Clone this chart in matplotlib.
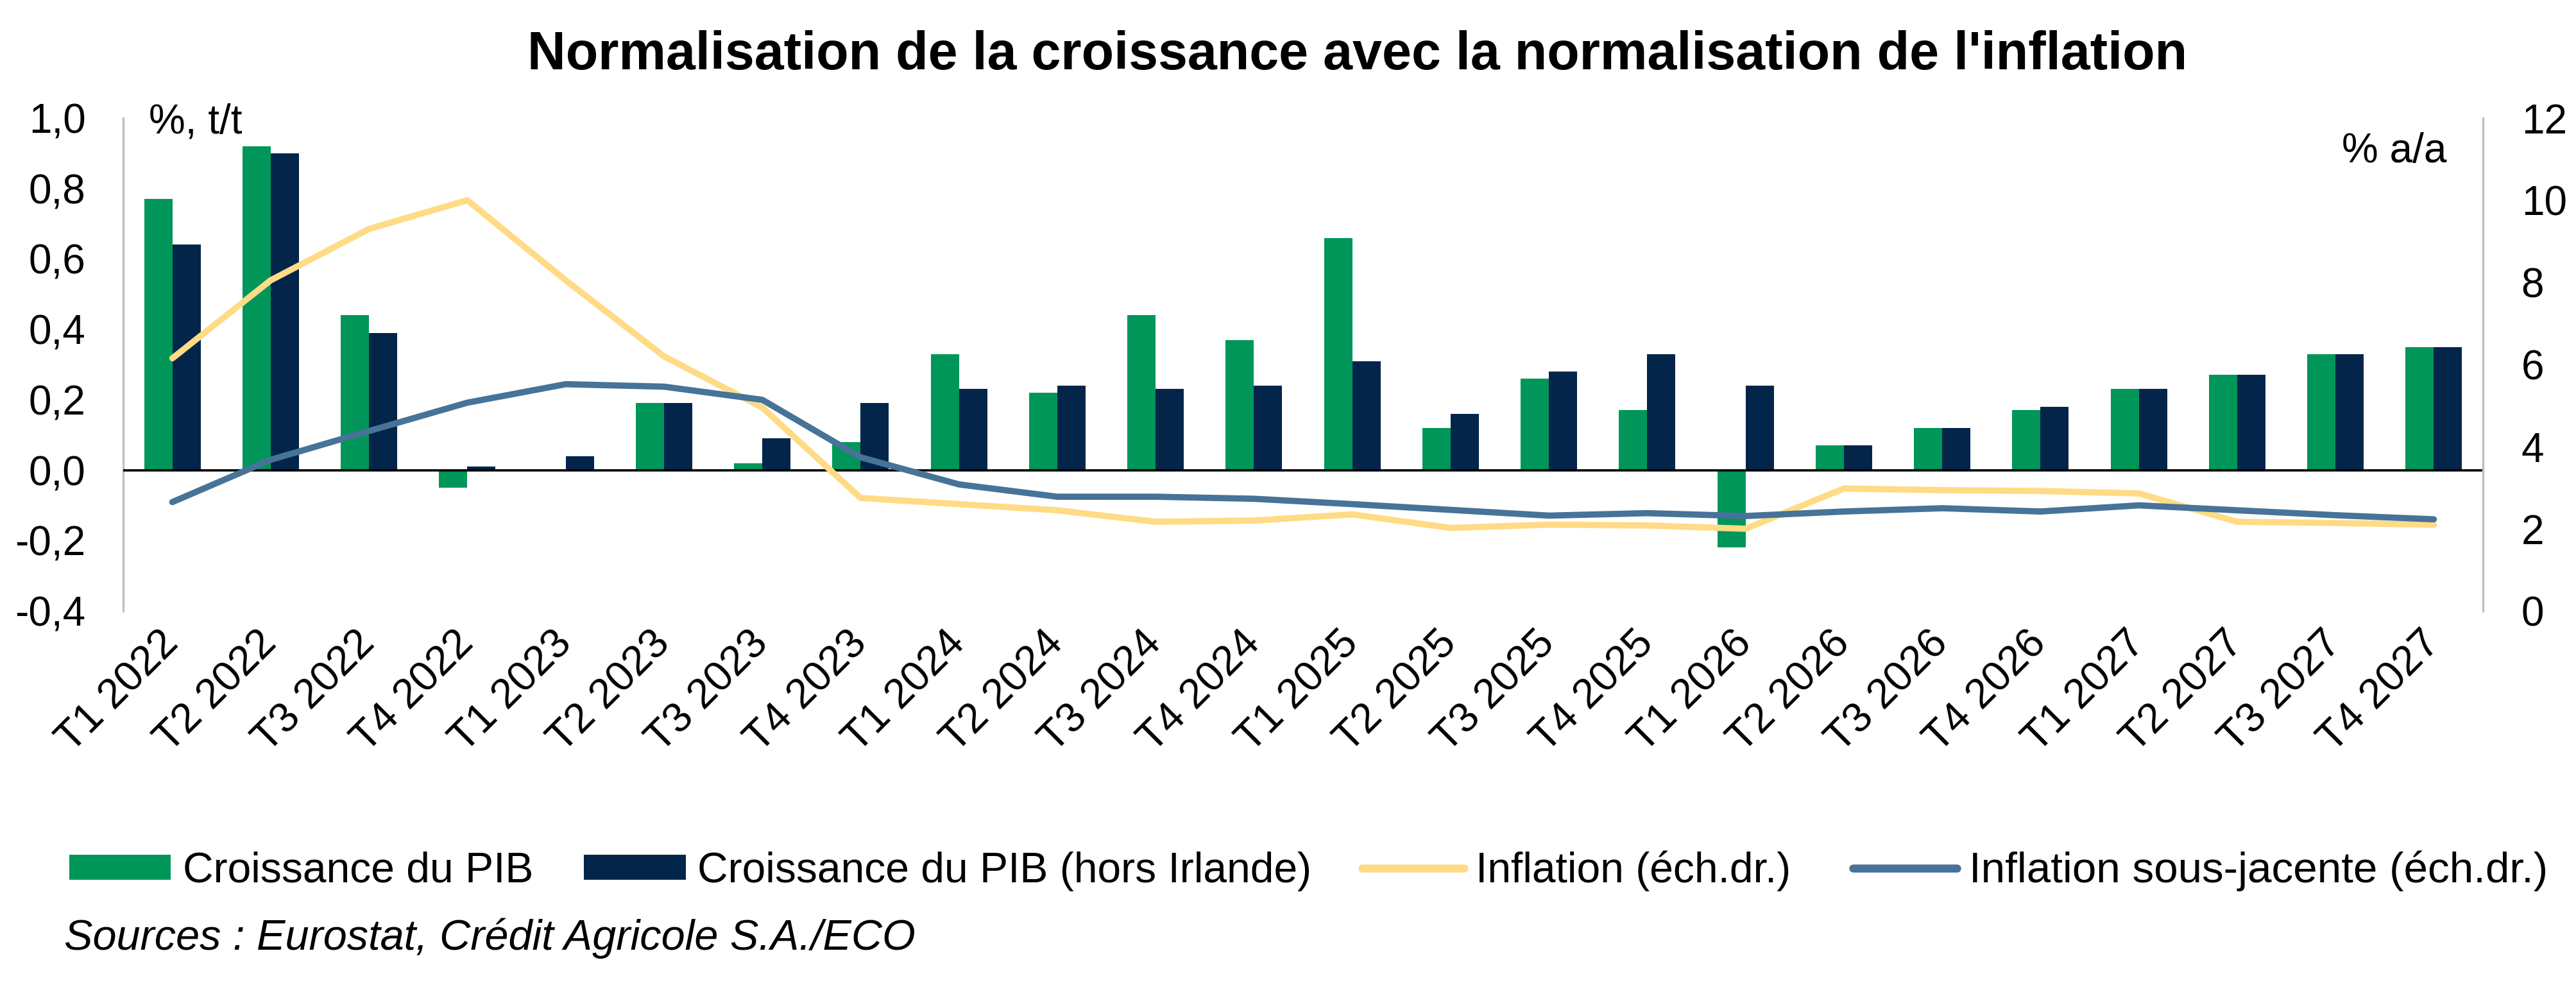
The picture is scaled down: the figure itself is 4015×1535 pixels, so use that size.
import matplotlib
matplotlib.use("Agg")
import matplotlib.pyplot as plt
from matplotlib.patches import Patch
from matplotlib.lines import Line2D
import numpy as np

plt.rcParams['font.family'] = ['Liberation Sans', 'DejaVu Sans']

categories = ["T1 2022", "T2 2022", "T3 2022", "T4 2022",
              "T1 2023", "T2 2023", "T3 2023", "T4 2023",
              "T1 2024", "T2 2024", "T3 2024", "T4 2024",
              "T1 2025", "T2 2025", "T3 2025", "T4 2025",
              "T1 2026", "T2 2026", "T3 2026", "T4 2026",
              "T1 2027", "T2 2027", "T3 2027", "T4 2027"]

pib = [0.77, 0.92, 0.44, -0.05,
       0.00, 0.19, 0.02, 0.08,
       0.33, 0.22, 0.44, 0.37,
       0.66, 0.12, 0.26, 0.17,
       -0.22, 0.07, 0.12, 0.17,
       0.23, 0.27, 0.33, 0.35]

pib_hors_irlande = [0.64, 0.90, 0.39, 0.01,
                    0.04, 0.19, 0.09, 0.19,
                    0.23, 0.24, 0.23, 0.24,
                    0.31, 0.16, 0.28, 0.33,
                    0.24, 0.07, 0.12, 0.18,
                    0.23, 0.27, 0.33, 0.35]

inflation = [6.15, 8.05, 9.3, 10.0,
             8.05, 6.2, 4.95, 2.75,
             2.6, 2.45, 2.17, 2.2,
             2.35, 2.02, 2.1, 2.08,
             2.0, 2.98, 2.94, 2.92,
             2.86, 2.17, 2.14, 2.1]

inflation_sj = [2.65, 3.68, 4.38, 5.07,
                5.52, 5.46, 5.14, 3.74,
                3.08, 2.78, 2.78, 2.73,
                2.6, 2.46, 2.32, 2.38,
                2.31, 2.42, 2.5, 2.42,
                2.57, 2.45, 2.33, 2.23]

left_ticks = [-0.4, -0.2, 0.0, 0.2, 0.4, 0.6, 0.8, 1.0]
right_ticks = [0, 2, 4, 6, 8, 10, 12]

GREEN = "#00965A"
NAVY = "#03254A"
YELLOW = "#FFDB86"
BLUE = "#467397"
GREY = "#BFBFBF"

W, H = 4015, 1535
fig = plt.figure(figsize=(W / 100, H / 100), dpi=100)
x0, x1, ytop, ybot = 192, 3870, 184, 952
ax = fig.add_axes([x0 / W, 1 - ybot / H, (x1 - x0) / W, (ybot - ytop) / H])

x = np.arange(len(categories))
bw = 0.287
ax.bar(x - bw / 2, pib, width=bw, color=GREEN, linewidth=0, zorder=2)
ax.bar(x + bw / 2, pib_hors_irlande, width=bw, color=NAVY, linewidth=0, zorder=2)
ax.axhline(0, color="black", lw=2.6, zorder=3)

ax.set_xlim(-0.5, len(categories) - 0.5)
ax.set_ylim(-0.4, 1.0)
ax.set_yticks(left_ticks)
ax.set_yticklabels([f"{v:.1f}".replace(".", ",") for v in left_ticks], fontsize=46)
ax.tick_params(axis="y", length=0, pad=42)
ax.set_xticks(x)
ax.set_xticklabels(categories, fontsize=47, rotation=45, ha="right",
                   va="center", rotation_mode="anchor")
ax.tick_params(axis="x", length=0, pad=30)

for s in ["top", "bottom", "right"]:
    ax.spines[s].set_visible(False)
ax.spines["left"].set_color(GREY)
ax.spines["left"].set_linewidth(2.4)

ax2 = ax.twinx()
ax2.plot(x, inflation, color=YELLOW, lw=7, solid_capstyle="round",
         solid_joinstyle="round", zorder=4)
ax2.plot(x, inflation_sj, color=BLUE, lw=7, solid_capstyle="round",
         solid_joinstyle="round", zorder=5)
ax2.set_ylim(0, 12)
ax2.set_yticks(right_ticks)
ax2.set_yticklabels([str(v) for v in right_ticks], fontsize=46)
ax2.tick_params(axis="y", length=0, pad=43)
for s in ["top", "bottom", "left"]:
    ax2.spines[s].set_visible(False)
ax2.spines["right"].set_color(GREY)
ax2.spines["right"].set_linewidth(2.4)

fig.text(2116 / W, 1 - 86 / H, "Normalisation de la croissance avec la normalisation de l'inflation",
         fontsize=59.5, fontweight="bold", ha="center", va="center")
fig.text(232 / W, 1 - 190 / H, "%, t/t", fontsize=46, ha="left", va="center")
fig.text(3814 / W, 1 - 236 / H, "% a/a", fontsize=46, ha="right", va="center")

handles = [Patch(facecolor=GREEN, edgecolor="none"),
           Patch(facecolor=NAVY, edgecolor="none"),
           Line2D([0], [0], color=YELLOW, lw=9, solid_capstyle="round")]
labels = ["Croissance du PIB", "Croissance du PIB (hors Irlande)",
          "Inflation (éch.dr.)"]
fig.legend(handles, labels, loc="center left", bbox_to_anchor=(108 / W, 1 - 1357 / H),
           ncol=3, frameon=False, fontsize=47.5, handlelength=2.4, handleheight=0.55,
           handletextpad=0.28, columnspacing=1.2, borderpad=0, borderaxespad=0)
fig.legend([Line2D([0], [0], color=BLUE, lw=9, solid_capstyle="round")],
           ["Inflation sous-jacente (éch.dr.)"], loc="center left",
           bbox_to_anchor=(2888 / W, 1 - 1357 / H),
           ncol=1, frameon=False, fontsize=48.5, handlelength=2.4, handleheight=0.55,
           handletextpad=0.28, borderpad=0, borderaxespad=0)

fig.text(100 / W, 1 - 1462 / H, "Sources : Eurostat, Crédit Agricole S.A./ECO",
         fontsize=48, style="italic", ha="left", va="center")

fig.savefig("out.png", dpi=100, facecolor="white")
